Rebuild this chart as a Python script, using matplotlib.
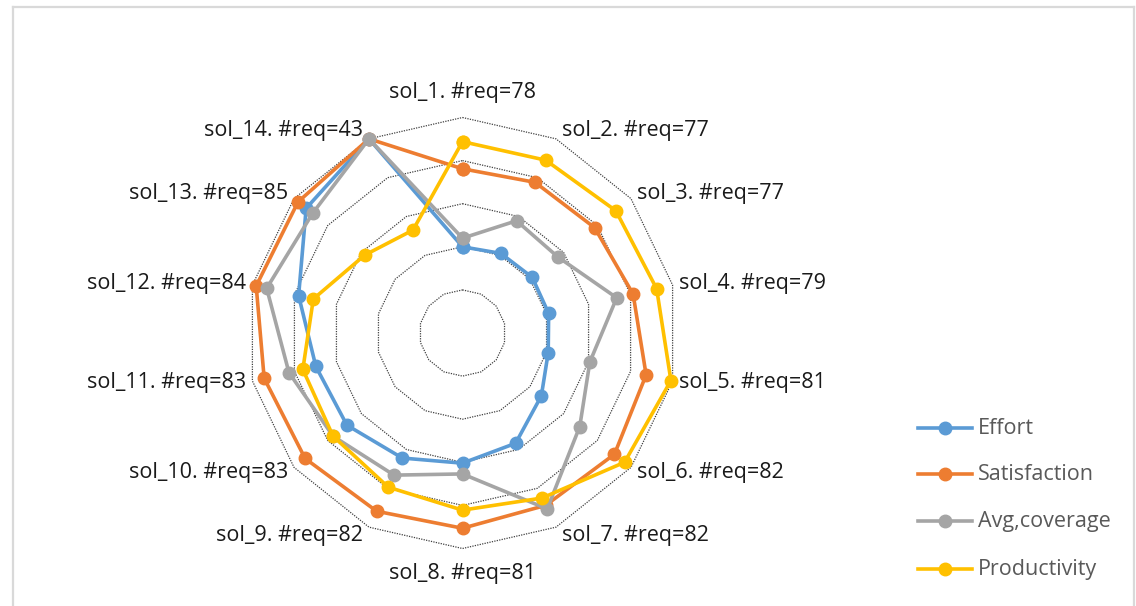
import numpy as np
import matplotlib
matplotlib.use("Agg")
import matplotlib.pyplot as plt
from matplotlib.lines import Line2D

categories = ["sol_1. #req=78", "sol_2. #req=77", "sol_3. #req=77", "sol_4. #req=79",
              "sol_5. #req=81", "sol_6. #req=82", "sol_7. #req=82", "sol_8. #req=81",
              "sol_9. #req=82", "sol_10. #req=83", "sol_11. #req=83", "sol_12. #req=84",
              "sol_13. #req=85", "sol_14. #req=43"]

effort = [2.00, 2.05, 2.07, 2.05, 2.04, 2.34, 2.84, 3.02, 3.22, 3.43, 3.49, 3.90, 4.64, 5.00]
satisfaction = [3.81, 3.88, 3.92, 4.06, 4.37, 4.51, 4.44, 4.53, 4.59, 4.67, 4.72, 4.91, 4.88, 5.00]
avg_coverage = [2.20, 2.89, 2.83, 3.67, 3.03, 3.48, 4.53, 3.27, 3.66, 3.84, 4.13, 4.66, 4.45, 5.00]
productivity = [4.44, 4.45, 4.55, 4.62, 4.96, 4.81, 4.25, 4.11, 3.97, 3.84, 3.80, 3.55, 2.90, 2.65]

series_names = ["Effort", "Satisfaction", "Avg,coverage", "Productivity"]
series_values = [effort, satisfaction, avg_coverage, productivity]
series_colors = ["#5B9BD5", "#ED7D31", "#A5A5A5", "#FFC000"]

ring_levels = [1, 2, 3, 4, 5]
r_max = 5

plt.rcParams["font.family"] = ["Open Sans", "DejaVu Sans"]

W, H, DPI = 1136, 606, 100
fig = plt.figure(figsize=(W / DPI, H / DPI), dpi=DPI)
fig.patch.set_facecolor("white")

# chart area border
border = "#D9D9D9"
for xs, ys in [((13 / W, 13 / W), (0, 1 - 7 / H)),
               ((13 / W, 1134 / W), (1 - 7 / H, 1 - 7 / H)),
               ((1134 / W, 1134 / W), (0, 1 - 7 / H))]:
    fig.add_artist(Line2D(xs, ys, transform=fig.transFigure, color=border, lw=1.6))

cx, cy, R = 462.5, 333.0, 215.5
ax = fig.add_axes([(cx - R) / W, (H - cy - R) / H, 2 * R / W, 2 * R / H], projection="polar")
ax.set_theta_zero_location("N")
ax.set_theta_direction(-1)
ax.set_ylim(0, r_max)
ax.grid(False)
ax.set_xticks([])
ax.set_yticks([])
ax.spines["polar"].set_visible(False)
ax.patch.set_alpha(0)

n = len(categories)
theta = np.arange(n) * 2 * np.pi / n
theta_closed = np.append(theta, theta[0])

# polygonal dotted gridlines
for lvl in ring_levels:
    ax.plot(theta_closed, [lvl] * (n + 1), color="#404040", lw=0.9,
            linestyle=(0, (1, 1)), zorder=1, clip_on=False)

for name, vals, col in zip(series_names, series_values, series_colors):
    v = np.append(vals, vals[0])
    ax.plot(theta_closed, v, color=col, lw=2.6, marker="o", markersize=9,
            markeredgecolor=col, label=name, zorder=3, clip_on=False)

# category labels
for k, (t, lab) in enumerate(zip(theta, categories)):
    s, c = np.sin(t), np.cos(t)
    if abs(s) < 1e-6:
        ha = "center"
        dx, dy = 0, 25 * np.sign(c)
    else:
        ha = "left" if s > 0 else "right"
        dx, dy = 6 * np.sign(s), 9 * c
    ax.annotate(lab, xy=(t, r_max), xytext=(dx, dy), textcoords="offset pixels",
                ha=ha, va="center", fontsize=15.5, color="#1a1a1a", annotation_clip=False)

# legend
leg_y = [428, 474, 521, 569]
for name, col, y in zip(series_names, series_colors, leg_y):
    fy = 1 - y / H
    fig.add_artist(Line2D([918 / W, 972 / W], [fy, fy], transform=fig.transFigure,
                          color=col, lw=2.6))
    fig.add_artist(Line2D([945 / W], [fy], transform=fig.transFigure, color=col,
                          marker="o", markersize=9, lw=0))
    fig.text(978 / W, fy, name, ha="left", va="center", fontsize=15.5, color="#595959")

fig.savefig("out.png", dpi=DPI, facecolor="white")
